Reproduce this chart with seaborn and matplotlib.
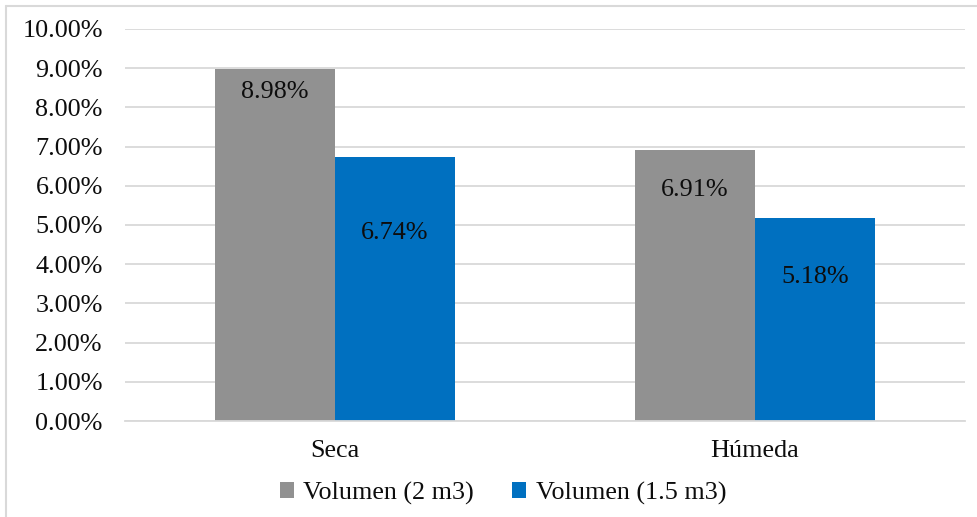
import matplotlib
matplotlib.use("Agg")
import matplotlib.pyplot as plt
from matplotlib.lines import Line2D
from matplotlib.patches import Patch
import seaborn as sns
import pandas as pd

categories = ["Seca", "Húmeda"]
series_names = ["Volumen (2 m3)", "Volumen (1.5 m3)"]
vol_2m3 = [8.98, 6.91]
vol_15m3 = [6.74, 5.18]
y_ticks = [0, 1, 2, 3, 4, 5, 6, 7, 8, 9, 10]

colors = ["#919191", "#0070C0"]

df = pd.DataFrame({
    "Condición": categories * 2,
    "Serie": [series_names[0]] * 2 + [series_names[1]] * 2,
    "Valor": vol_2m3 + vol_15m3,
})

sns.set_theme(style="white")
plt.rcParams["font.family"] = ["Liberation Serif", "DejaVu Serif"]

FS = 18.8
TXT = "#0d0d0d"

fig = plt.figure(figsize=(9.77, 5.17), dpi=100)
ax = fig.add_axes([125 / 977, 1 - 421 / 517, 840 / 977, 392 / 517])

sns.barplot(data=df, x="Condición", y="Valor", hue="Serie",
            palette=colors, width=0.5714, saturation=1, ax=ax,
            legend=False, linewidth=0, zorder=2)

ax.set_ylim(0, 10)
ax.set_xlim(-0.5, 1.5)
ax.set_yticks(y_ticks)
ax.set_yticklabels([f"{v:.2f}%" for v in y_ticks], fontsize=FS, color=TXT)
ax.tick_params(axis="x", labelsize=FS, colors=TXT, length=0, pad=14)
ax.tick_params(axis="y", length=0, pad=16)
ax.set_xlabel("")
ax.set_ylabel("")
ax.grid(axis="y", color="#d9d9d9", linewidth=1.3, zorder=0)
for side in ["top", "right", "left"]:
    ax.spines[side].set_visible(False)
ax.spines["bottom"].set_color("#d9d9d9")
ax.spines["bottom"].set_linewidth(1.3)

# value labels inside the bars
label_drop = [[0.59, 1.02], [1.94, 1.51]]
for s_idx, container in enumerate(ax.containers):
    for b_idx, bar in enumerate(container):
        val = bar.get_height()
        ax.text(bar.get_x() + bar.get_width() / 2, val - label_drop[s_idx][b_idx],
                f"{val:.2f}%", ha="center", va="center", fontsize=FS,
                color=TXT, zorder=3)

handles = [Patch(facecolor=c, edgecolor="none") for c in colors]
fig.legend(handles, series_names, loc="center",
           bbox_to_anchor=(503 / 977, 1 - 493 / 517),
           ncol=2, frameon=False, fontsize=FS, handlelength=0.55, handleheight=0.55,
           handletextpad=0.35, columnspacing=1.45, labelcolor=TXT)

# chart frame
fig.add_artist(Line2D([6 / 977, 6 / 977], [0, 1 - 6 / 517], color="#d9d9d9",
                      linewidth=1.5, transform=fig.transFigure))
fig.add_artist(Line2D([6 / 977, 1], [1 - 6 / 517, 1 - 6 / 517], color="#d9d9d9",
                      linewidth=1.5, transform=fig.transFigure))

fig.savefig("out.png", dpi=100)
